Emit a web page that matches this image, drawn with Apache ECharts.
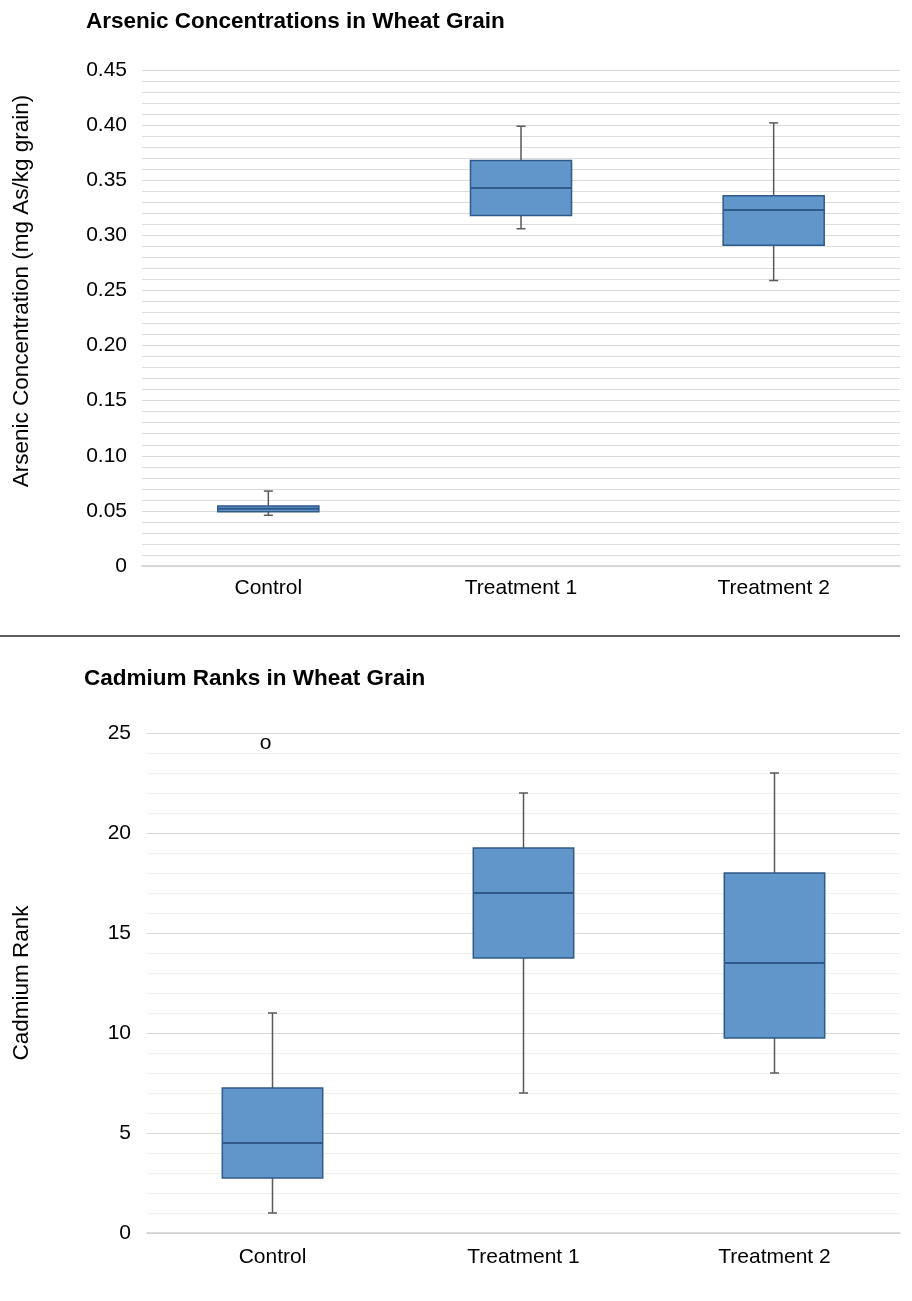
<!DOCTYPE html>
<html>
<head>
<meta charset="utf-8">
<script src="https://cdn.jsdelivr.net/npm/echarts@6/dist/echarts.min.js"></script>
<style>
  html, body { margin: 0; padding: 0; background: #ffffff; }
  #chart { width: 912px; height: 1301px; }
</style>
</head>
<body>
<div id="chart"></div>
<script>
// Groups shared by both panels
const categories = ['Control', 'Treatment 1', 'Treatment 2'];

// Arsenic in grain (mg As/kg grain): five-number summaries per group
const arsenicMin    = [0.046, 0.306, 0.259];
const arsenicQ1     = [0.0493, 0.318, 0.291];
const arsenicMedian = [0.052, 0.343, 0.323];
const arsenicQ3     = [0.0544, 0.368, 0.336];
const arsenicMax    = [0.068, 0.399, 0.402];

// Cadmium ranks in grain: five-number summaries per group
const cadmiumMin    = [1, 7, 8];
const cadmiumQ1     = [2.75, 13.75, 9.75];
const cadmiumMedian = [4.5, 17, 13.5];
const cadmiumQ3     = [7.25, 19.25, 18];
const cadmiumMax    = [11, 22, 23];
// Outlying ranks: [group index, rank]
const cadmiumOutliers = [[0, 24.5]];

// Axis tick labels
const arsenicTicks = ['0', '0.05', '0.10', '0.15', '0.20', '0.25', '0.30', '0.35', '0.40', '0.45'];
const cadmiumTicks = ['0', '5', '10', '15', '20', '25'];

const FONT = "'Liberation Sans', Arial, sans-serif";
const BOX_FILL = '#6096c9';
const BOX_EDGE = '#2f5a89';
const WHISKER = '#595959';

function summaryRows(mins, q1s, meds, q3s, maxs) {
  return categories.map((c, i) => [i, mins[i], q1s[i], meds[i], q3s[i], maxs[i]]);
}

// Box with short capped whiskers and a median bar
function renderBox(params, api) {
  const idx = api.value(0);
  const lo = api.coord([idx, api.value(1)]);
  const q1 = api.coord([idx, api.value(2)]);
  const md = api.coord([idx, api.value(3)]);
  const q3 = api.coord([idx, api.value(4)]);
  const hi = api.coord([idx, api.value(5)]);
  const band = api.size([1, 0])[0];
  const half = band * 0.2;
  const cap = 4.5;
  const x = lo[0];
  const whiskerStyle = { stroke: WHISKER, lineWidth: 1.5 };
  return {
    type: 'group',
    children: [
      { type: 'line', shape: { x1: x, y1: hi[1], x2: x, y2: q3[1] }, style: whiskerStyle },
      { type: 'line', shape: { x1: x, y1: q1[1], x2: x, y2: lo[1] }, style: whiskerStyle },
      { type: 'line', shape: { x1: x - cap, y1: hi[1], x2: x + cap, y2: hi[1] }, style: whiskerStyle },
      { type: 'line', shape: { x1: x - cap, y1: lo[1], x2: x + cap, y2: lo[1] }, style: whiskerStyle },
      { type: 'rect', shape: { x: x - half, y: q3[1], width: half * 2, height: q1[1] - q3[1] },
        style: { fill: BOX_FILL, stroke: BOX_EDGE, lineWidth: 1.5 } },
      { type: 'line', shape: { x1: x - half, y1: md[1], x2: x + half, y2: md[1] },
        style: { stroke: BOX_EDGE, lineWidth: 2 } }
    ]
  };
}

// Outliers are drawn as a small "o" character
function renderOutlier(params, api) {
  const p = api.coord([api.value(0), api.value(1)]);
  return {
    type: 'text',
    x: p[0] - 7,
    y: p[1],
    style: { text: 'o', fill: '#000', font: '21px ' + FONT, align: 'center', verticalAlign: 'middle' }
  };
}

const chart = echarts.init(document.getElementById('chart'), null, { renderer: 'canvas' });

const catAxis = (gridIndex, margin) => ({
  type: 'category',
  gridIndex,
  data: categories,
  axisLine: { show: true, lineStyle: { color: '#d0d0d0', width: 1.5 } },
  axisTick: { show: false },
  axisLabel: { color: '#000', fontSize: 21, fontFamily: FONT, margin },
  splitLine: { show: false }
});

chart.setOption({
  animation: false,
  backgroundColor: '#ffffff',
  title: [
    { text: 'Arsenic Concentrations in Wheat Grain', left: 81, top: 5,
      textStyle: { fontSize: 22.5, fontWeight: 'bold', fontFamily: FONT, color: '#000' } },
    { text: 'Cadmium Ranks in Wheat Grain', left: 79, top: 662,
      textStyle: { fontSize: 22.5, fontWeight: 'bold', fontFamily: FONT, color: '#000' } }
  ],
  grid: [
    { left: 142, right: 12, top: 70, height: 496 },
    { left: 147, right: 12, top: 733, height: 500 }
  ],
  xAxis: [catAxis(0, 12), catAxis(1, 14)],
  yAxis: [
    {
      type: 'value', gridIndex: 0, min: 0, max: 0.45, interval: 0.05,
      axisLine: { show: false }, axisTick: { show: false },
      axisLabel: { color: '#000', fontSize: 21, fontFamily: FONT, margin: 15,
        formatter: (v) => arsenicTicks[Math.round(v / 0.05)] },
      splitLine: { show: true, lineStyle: { color: '#d9d9d9', width: 1 } },
      minorTick: { show: false, splitNumber: 5 },
      minorSplitLine: { show: true, lineStyle: { color: '#dcdcdc', width: 1 } }
    },
    {
      type: 'value', gridIndex: 1, min: 0, max: 25, interval: 5,
      axisLine: { show: false }, axisTick: { show: false },
      axisLabel: { color: '#000', fontSize: 21, fontFamily: FONT, margin: 16,
        formatter: (v) => cadmiumTicks[Math.round(v / 5)] },
      splitLine: { show: true, lineStyle: { color: '#d9d9d9', width: 1 } },
      minorTick: { show: false, splitNumber: 5 },
      minorSplitLine: { show: true, lineStyle: { color: '#f0f0f0', width: 1 } }
    }
  ],
  series: [
    {
      type: 'custom', xAxisIndex: 0, yAxisIndex: 0,
      renderItem: renderBox,
      encode: { x: 0, y: [1, 2, 3, 4, 5] },
      data: summaryRows(arsenicMin, arsenicQ1, arsenicMedian, arsenicQ3, arsenicMax),
      z: 5
    },
    {
      type: 'custom', xAxisIndex: 1, yAxisIndex: 1,
      renderItem: renderBox,
      encode: { x: 0, y: [1, 2, 3, 4, 5] },
      data: summaryRows(cadmiumMin, cadmiumQ1, cadmiumMedian, cadmiumQ3, cadmiumMax),
      z: 5
    },
    {
      type: 'custom', xAxisIndex: 1, yAxisIndex: 1,
      renderItem: renderOutlier,
      encode: { x: 0, y: 1 },
      data: cadmiumOutliers,
      z: 6
    }
  ],
  graphic: [
    { type: 'text', x: 22, y: 291, rotation: Math.PI / 2,
      style: { text: 'Arsenic Concentration (mg As/kg grain)', font: '22.5px ' + FONT, fill: '#000',
        align: 'center', verticalAlign: 'middle' } },
    { type: 'text', x: 22, y: 983, rotation: Math.PI / 2,
      style: { text: 'Cadmium Rank', font: '22.5px ' + FONT, fill: '#000',
        align: 'center', verticalAlign: 'middle' } },
    { type: 'line', shape: { x1: 0, y1: 636, x2: 900, y2: 636 },
      style: { stroke: '#262626', lineWidth: 1.5 } }
  ]
});
</script>
</body>
</html>
